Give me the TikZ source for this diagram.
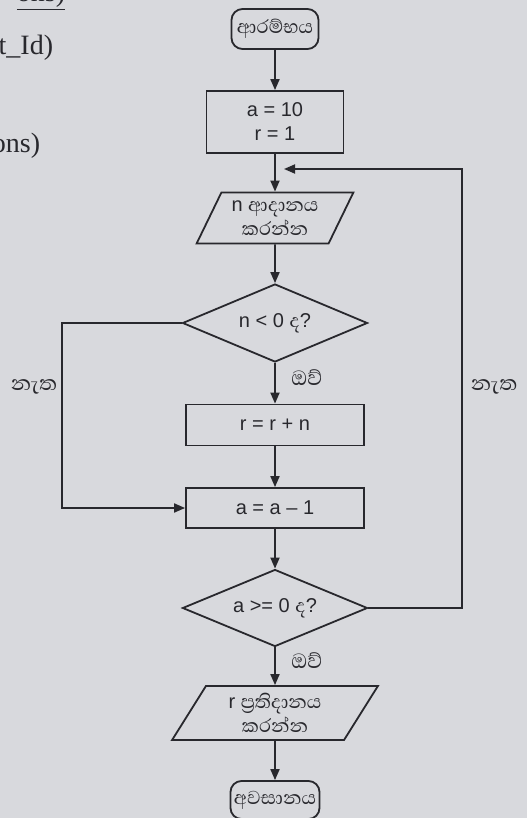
\documentclass[tikz,border=0pt]{standalone}
\usepackage{fontspec}
\setmainfont{Liberation Sans}
\newfontfamily\sinhalafont[Script=Sinhala,Scale=1.2]{Abhaya Libre}
\newfontfamily\bookfont{Liberation Serif}
\usetikzlibrary{shapes.geometric,arrows.meta}
\definecolor{pagebg}{RGB}{216,217,221}
\definecolor{ink}{RGB}{40,40,45}

\begin{document}
\begin{tikzpicture}
	 [x=1pt,y=-1pt,line width=1.8pt,color=ink,
	  every node/.style={text=ink,font=\fontsize{20}{24}\selectfont,inner sep=2pt},
	  term/.style={draw,rounded corners=11pt,minimum width=87pt,minimum height=40pt},
	  proc/.style={draw,rectangle,minimum width=178pt,minimum height=41pt,align=center},
	  io/.style={draw,trapezium,trapezium left angle=60,trapezium right angle=120,
	    trapezium stretches=true,minimum height=51pt,inner sep=0pt,align=center},
	  dec/.style={draw,diamond,aspect=2.4,inner sep=0pt,minimum width=185pt,minimum height=78pt},
	  answer/.style={font=\fontsize{22}{24}\selectfont},
	  flow/.style={-{Triangle[length=11pt,width=9pt]}}]

	  \fill[pagebg] (0,0) rectangle (527,818);
	  \useasboundingbox (0,0) rectangle (527,818);

	  % page text cut off at the left
	  \node (frag0) [anchor=base east,font=\bookfont\fontsize{28}{30}\selectfont] at (68,2) {\underline{ons)}};
	  \node (frag1) [anchor=east,font=\bookfont\fontsize{28}{30}\selectfont] at (56,48) {t\_Id)};
	  \node (frag2) [anchor=east,font=\bookfont\fontsize{28}{30}\selectfont] at (43,146) {ons)};

	  \node (start) [term] at (275,29) {\sinhalafont ආරම්භය};
	  \node (init) [proc,minimum width=137pt,minimum height=62pt] at (275,122) {a = 10\\r = 1};
	  \node (readn) [io,minimum width=157pt] at (275,218) {n {\sinhalafont ආදානය}\\{\sinhalafont කරන්න}};
	  \node (testn) [dec] at (275,323) {n < 0 {\sinhalafont ද}?};
	  \node (addr) [proc] at (275,425) {r = r + n};
	  \node (deca) [proc,minimum height=40pt] at (275,508) {a = a – 1};
	  \node (testa) [dec,minimum height=77pt] at (275,608) {a >= 0 {\sinhalafont ද}?};
	  \node (printr) [io,minimum width=206pt,minimum height=54pt] at (275,713) {r {\sinhalafont ප්^^^^200dරතිදානය}\\{\sinhalafont කරන්න}};
	  \node (stop) [term,minimum width=89pt,minimum height=38pt] at (275,800) {\sinhalafont අවසානය};

	\foreach \from/\to in {start/init,init/readn,readn/testn,testn/addr,addr/deca,deca/testa,testa/printr,printr/stop}
    \draw[flow] (\from) -- (\to);

	  \coordinate (leftbend) at (62,323);
	  \coordinate (rightbend) at (462,608);
	  \coordinate (loopin) at (284,169);

	\draw[flow] (testn) -- (leftbend) |- (deca);
	\draw[flow] (testa) -- (rightbend) |- (loopin);

	  \node (yes1) [answer] at (307,378) {\sinhalafont ඔව්};
	  \node (yes2) [answer] at (307,661) {\sinhalafont ඔව්};
	  \node (no1) [answer] at (34,387) {\sinhalafont නැත};
	  \node (no2) [answer] at (494,387) {\sinhalafont නැත};

\end{tikzpicture}
\end{document}
